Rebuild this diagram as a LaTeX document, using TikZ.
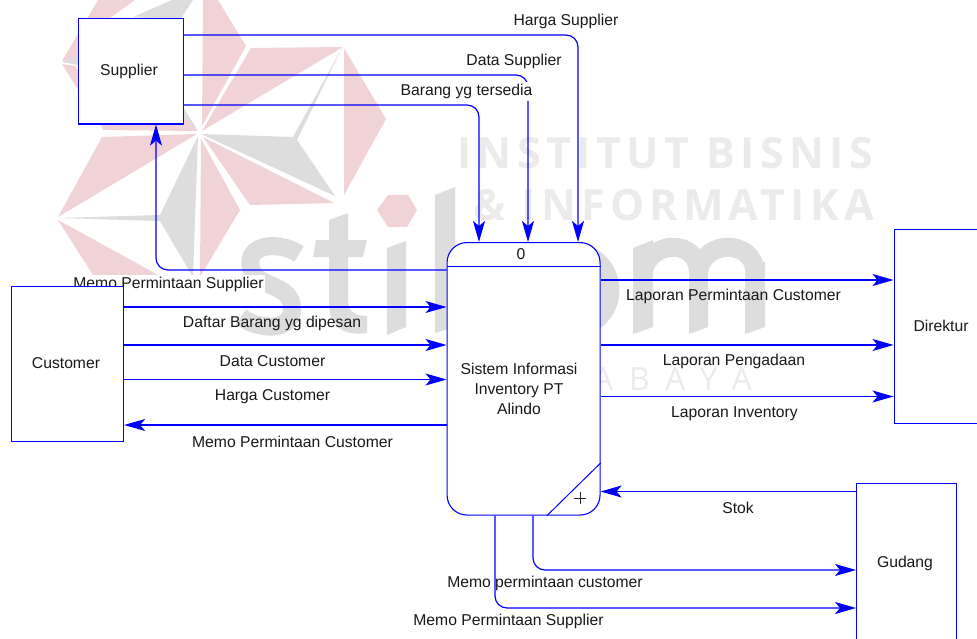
\documentclass[tikz,border=0pt]{standalone}
\usepackage{fontspec}
\setmainfont{Liberation Sans}
\newfontfamily\wmbold[LetterSpace=12.7]{Open Sans}
\newfontfamily\wmboldb[LetterSpace=12.1]{Open Sans}
\newfontfamily\wmthin[LetterSpace=50]{Open Sans}
\usetikzlibrary{arrows.meta}
\definecolor{flowblue}{HTML}{0000FF}
\definecolor{wmpink}{HTML}{F1D3D7}
\definecolor{wmgrey}{HTML}{DDDDDD}
\definecolor{wmtext}{HTML}{EBEBEB}
\tikzset{
  x=1pt,y=-1pt,
  diagfont/.style={font=\fontsize{15.7}{20}\selectfont,text=black!90},
  entity/.style={draw=flowblue,fill=white,line width=1.1pt,rectangle,diagfont,inner sep=0pt,anchor=north west},
  process/.style={draw=flowblue,fill=white,line width=1.1pt,rectangle,rounded corners=20pt,inner sep=0pt,anchor=north west,minimum width=153pt,minimum height=272.5pt},
  flow/.style={draw=flowblue,line width=1.2pt,rounded corners=12pt,-{Stealth[length=21pt,width=12pt,inset=5pt]}},
  plainline/.style={draw=flowblue,line width=1pt},
  flowlabel/.style={diagfont,inner sep=0pt,yshift=-1.3pt},
  masked/.style={flowlabel,fill=white,inner xsep=1pt,inner ysep=2pt},
  pinkpart/.style={fill=wmpink},
  greypart/.style={fill=wmgrey},
  greystroke/.style={draw=wmgrey,line width=19pt},
}
\begin{document}
\begin{tikzpicture}
\useasboundingbox (0,0) rectangle (977,639);
\clip (0,0) rectangle (977,639);
\fill[white] (0,0) rectangle (977,639);
% --- watermark: star
\fill[pinkpart] (203,0) -- (218,0) -- (246,46) -- (202,126) -- cycle;
\fill[pinkpart] (251,48) -- (343,47) -- (202,131) -- cycle;
\fill[pinkpart] (344,48) -- (386,119) -- (344,195) -- cycle;
\fill[pinkpart] (203,137) -- (334,203) -- (250,205) -- cycle;
\fill[pinkpart] (201,139) -- (240,210) -- (200,277) -- cycle;
\fill[pinkpart] (102,137) -- (197,134) -- (58,217) -- cycle;
\fill[pinkpart] (58,220) -- (160,276) -- (95,278) -- cycle;
\fill[pinkpart] (62,61) -- (98,0) -- (135,0) -- (100,25) -- (76,60) -- cycle;
\fill[pinkpart] (62,64) -- (76,66) -- (100,123) -- (103,130) -- (197,131) -- (183,110) -- (90,110) -- (77,88) -- cycle;
\fill[greypart] (62,62) -- (78,55) -- (78,65) -- cycle;
\fill[greypart] (133,17) -- (172,0) -- (193,0) -- (180,20) -- cycle;
\fill[greypart] (183,107) -- (198,131) -- (183,116) -- cycle;
\fill[greypart] (201,134) -- (293,137) -- (342,48) -- (297,140) -- (335,196) -- cycle;
\fill[greypart] (198,136) -- (160,215) -- (58,218) -- (160,221) -- (193,277) -- cycle;
% --- watermark: stikom
\draw[greystroke,line width=18pt] (299,254) .. controls (280,241) and (245,243) .. (251,268) .. controls (256,289) and (292,282) .. (292,309) .. controls (292,332) and (258,330) .. (241,317);
\fill[greypart] (329,220) -- (348,213) -- (348,240) -- (367,240) -- (363,257) -- (348,257) -- (348,300) .. controls (348,313) and (357,316) .. (367,316) -- (367,333) .. controls (345,336) and (329,328) .. (329,303) -- (329,257) -- (313,257) -- (316,240) -- (329,240) -- cycle;
\fill[pinkpart] (377,210) -- (388,195) -- (408,195) -- (417,210) -- (407,227) -- (388,227) -- cycle;
\fill[greypart] (387,248) -- (406,241) -- (406,327) -- (387,335) -- cycle;
\fill[greypart] (435,195) -- (455,187) -- (455,327) -- (435,333) -- cycle;
\draw[greystroke] (572,290) circle[radius=38];
\fill[greypart] (633,248) -- (653,240) -- (653,327) -- (633,334) -- cycle;
\fill[greypart] (689,262) -- (708,262) -- (708,327) -- (689,334) -- cycle;
\fill[greypart] (745,262) -- (765,262) -- (765,327) -- (745,334) -- cycle;
\draw[greystroke] (643,272) .. controls (650,239) and (698,239) .. (698.5,272);
\draw[greystroke] (698.5,272) .. controls (703,239) and (754,239) .. (755,272);
% --- watermark: institute name
\node[anchor=base west,inner sep=0pt,text=wmtext,font=\fontsize{43}{50}\wmbold\bfseries] (wmA) at (457,168.5) {INSTITUT BISNIS};
\node[anchor=base west,inner sep=0pt,text=wmtext,font=\fontsize{43}{50}\wmboldb\bfseries] (wmB) at (473,220.5) {\& INFORMATIKA};
\node[anchor=base west,inner sep=0pt,text=wmtext,font=\fontsize{32}{40}\wmthin] (wmC) at (484,390) {SURABAYA};
% --- label hidden in part by the Customer box
\node[masked] (lMemoSup) at (168.5,283) {Memo Permintaan Supplier};
% --- boxes
\node[entity,minimum width=105.5pt,minimum height=105.5pt] (sup) at (77.5,18) {};
\node[flowlabel] at (129,70) {Supplier};
\node[entity,minimum width=112pt,minimum height=154.5pt] (cus) at (11,286) {};
\node[flowlabel] at (66,362) {Customer};
\node[entity,minimum width=120pt,minimum height=194pt] (dir) at (893.5,229) {};
\node[flowlabel] at (941,325) {Direktur};
\node[entity,minimum width=99.5pt,minimum height=180pt] (gud) at (856,483) {};
\node[flowlabel] at (905,562) {Gudang};
\node[process] (proc) at (446.5,242) {};
\draw[plainline] (proc.west |- 0,266) -- (proc.east |- 0,266);
\draw[plainline] (proc.east |- 0,463) -- (547,0 |- proc.south);
\draw[black!85,line width=0.7pt] (574,498) -- (586,498) (580,492) -- (580,504);
\node[flowlabel] at (521,253) {0};
\node[flowlabel,align=center] at (519,387.5) {Sistem Informasi\\[0.5pt]Inventory PT\\Alindo};
% --- flows
\draw[flow] (sup.east |- 0,35) -| (578,0 |- proc.north);
\draw[flow] (sup.east |- 0,75) -| (528,0 |- proc.north);
\draw[flow] (sup.east |- 0,105) -| (479,0 |- proc.north);
\draw[flow] (proc.west |- 0,270) -| (156,0 |- sup.south);
\draw[flow] (cus.east |- 0,307) -- (proc.west |- 0,307);
\draw[flow] (cus.east |- 0,345) -- (proc.west |- 0,345);
\draw[flow] (cus.east |- 0,379.5) -- (proc.west |- 0,379.5);
\draw[flow] (proc.west |- 0,425) -- (cus.east |- 0,425);
\draw[flow] (proc.east |- 0,280) -- (dir.west |- 0,280);
\draw[flow] (proc.east |- 0,345) -- (dir.west |- 0,345);
\draw[flow] (proc.east |- 0,396.5) -- (dir.west |- 0,396.5);
\draw[flow] (gud.west |- 0,491.5) -- (proc.east |- 0,491.5);
\draw[flow] (533,0 |- proc.south) |- (gud.west |- 0,570);
\draw[flow] (495,0 |- proc.south) |- (gud.west |- 0,608);
% --- labels
\node[flowlabel] at (566,20) {Harga Supplier};
\node[flowlabel] at (514,60) {Data Supplier};
\node[masked] at (466.5,90) {Barang yg tersedia};
\node[flowlabel] at (272,322) {Daftar Barang yg dipesan};
\node[flowlabel] at (272.5,360) {Data Customer};
\node[flowlabel] at (272.5,395) {Harga Customer};
\node[flowlabel] at (292.5,441) {Memo Permintaan Customer};
\node[flowlabel] at (733.5,295) {Laporan Permintaan Customer};
\node[flowlabel] at (734,360) {Laporan Pengadaan};
\node[flowlabel] at (734.5,412) {Laporan Inventory};
\node[flowlabel] at (738,507) {Stok};
\node[flowlabel] at (545,582) {Memo permintaan customer};
\node[flowlabel] at (508.5,620) {Memo Permintaan Supplier};
\end{tikzpicture}
\end{document}
